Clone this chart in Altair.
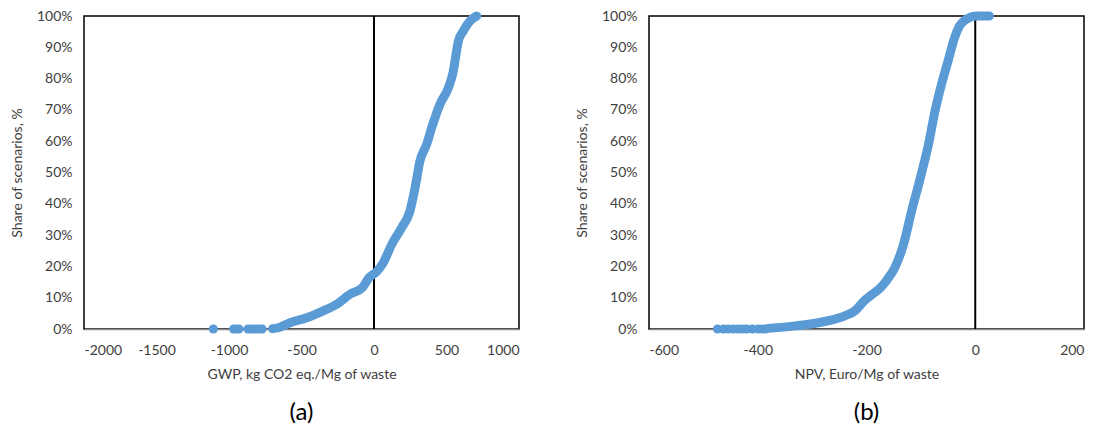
import altair as alt
import pandas as pd

# ---- data ----
gwp_value = [-700, -660, -579, -464, -350, -257, -166, -80, -34, 18, 64, 122, 191, 248, 283,
             317, 363, 398, 455, 513, 547, 566, 582, 616, 662, 708]
gwp_share = [0.1, 0.4, 2, 3.6, 5.8, 7.9, 11.1, 13.2, 16.4, 18.3, 21.2, 27, 32.4, 37.7, 45.1,
             53.7, 59, 64.3, 71.8, 77.1, 82.4, 87.8, 92, 95.2, 98.4, 100]
gwp_tail = [-1108, -968, -950, -932, -869, -850, -830, -810, -790, -772]

npv_value = [-381, -330, -277, -240, -220, -205, -190, -174, -155, -148, -132, -117, -101,
             -86, -74, -62, -50, -38, -29, -16, 2, 26]
npv_share = [0.2, 1, 2.4, 4.2, 6, 8.9, 11, 13.2, 17.5, 19.6, 27, 37.7, 48.3, 59, 69.6, 78.2,
             85.6, 93.1, 96.8, 99, 100, 100]
npv_tail = [-474, -463, -454, -445, -436, -428, -421, -410, -399, -392, -386]

FONT = "Lato"
BLUE = "#5B9BD5"
TXT = "#404040"


def panel(values, shares, tail, xdomain, xticks, xtitle, caption):
    line_df = pd.DataFrame({"x": values, "y": shares})
    tail_df = pd.DataFrame({"x": tail, "y": [0] * len(tail)})
    xscale = alt.Scale(domain=xdomain, nice=False, zero=False)
    yscale = alt.Scale(domain=[0, 100], nice=False)
    xaxis = alt.Axis(title=xtitle, values=xticks, labelExpr="'' + datum.value",
                     grid=False, ticks=False,
                     domainColor="#8c8c8c", domainWidth=1.5,
                     labelFont=FONT, labelFontSize=14, labelColor=TXT, labelPadding=14,
                     titleFont=FONT, titleFontSize=14, titleFontWeight="normal",
                     titleColor=TXT, titlePadding=10)
    yaxis = alt.Axis(title="Share of scenarios, %", values=list(range(0, 101, 10)),
                     labelExpr="datum.value + '%'", grid=False, ticks=False, domain=False,
                     labelFont=FONT, labelFontSize=14, labelColor=TXT, labelPadding=12,
                     titleFont=FONT, titleFontSize=14, titleFontWeight="normal",
                     titleColor=TXT, titlePadding=12)
    rule = alt.Chart(pd.DataFrame({"x": [0]})).mark_rule(
        color="black", strokeWidth=2).encode(x=alt.X("x:Q", scale=xscale, axis=xaxis))
    line = alt.Chart(line_df).mark_line(
        color=BLUE, strokeWidth=9, strokeCap="round", strokeJoin="round",
        interpolate="monotone").encode(
        x=alt.X("x:Q", scale=xscale, axis=xaxis),
        y=alt.Y("y:Q", scale=yscale, axis=yaxis))
    dots = alt.Chart(tail_df).mark_circle(color=BLUE, size=85, opacity=1).encode(
        x=alt.X("x:Q", scale=xscale, axis=xaxis),
        y=alt.Y("y:Q", scale=yscale, axis=yaxis))
    return alt.layer(rule, line, dots).properties(
        width=435, height=313,
        title=alt.TitleParams(caption, orient="bottom", fontSize=24, font=FONT,
                              fontWeight="normal", color="black", offset=20))


left = panel(gwp_value, gwp_share, gwp_tail, [-2000, 1000],
             [-2000, -1500, -1000, -500, 0, 500, 1000],
             "GWP, kg CO2 eq./Mg of waste", "(a)")
right = panel(npv_value, npv_share, npv_tail, [-600, 200],
              [-600, -400, -200, 0, 200],
              "NPV, Euro/Mg of waste", "(b)")

chart = alt.hconcat(left, right, spacing=54).resolve_scale(x="independent").configure_view(
    stroke="black", strokeWidth=1.5).properties(
    padding={"left": 1, "top": 0, "right": 5, "bottom": 5})

chart.save("out.html", embed_options={"renderer": "svg", "actions": False})
